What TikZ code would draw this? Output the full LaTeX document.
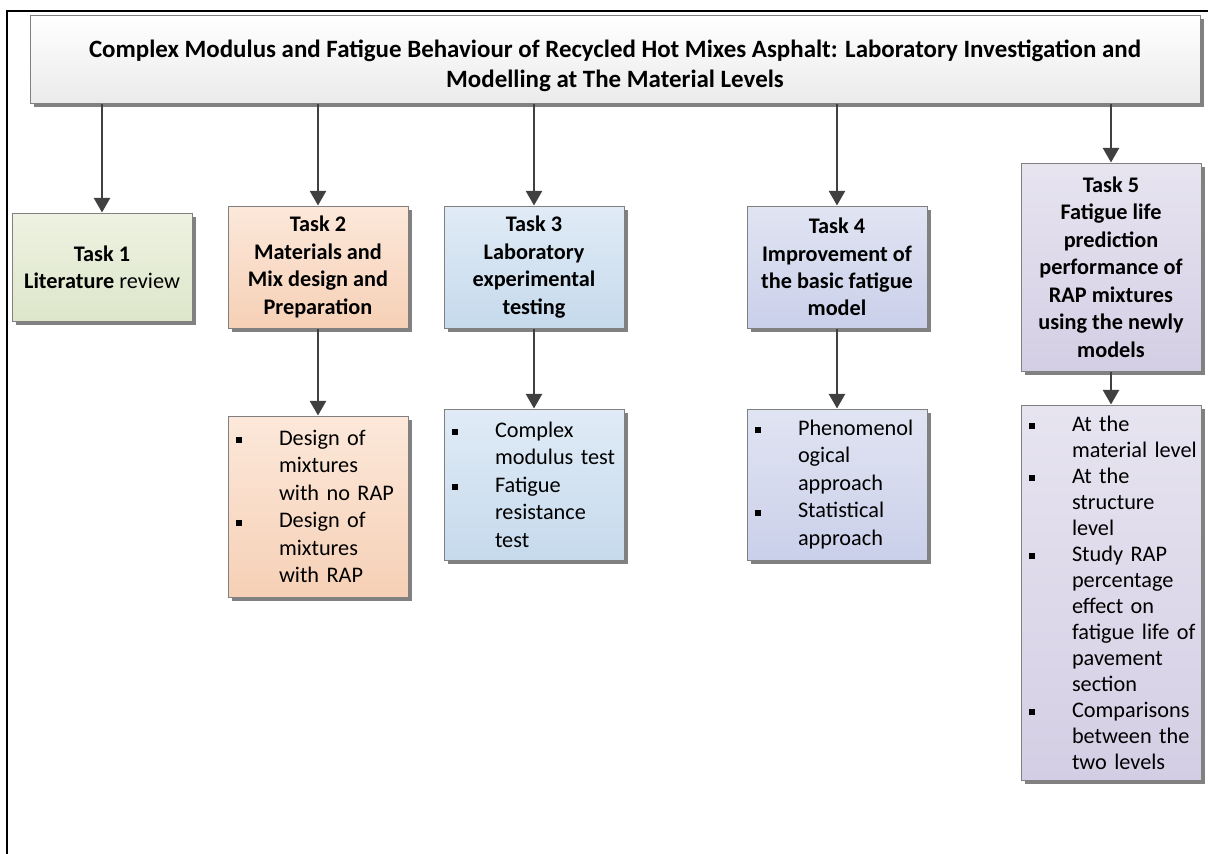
\documentclass[tikz,border=0pt]{standalone}
\usepackage{fontspec}
\setmainfont{Carlito}
\usetikzlibrary{arrows.meta, positioning, shadows}

\definecolor{boxgray}{RGB}{128,128,128}
\definecolor{arrowgray}{RGB}{64,64,64}
\definecolor{greenA}{RGB}{238,242,226}
\definecolor{greenB}{RGB}{221,230,202}
\definecolor{peachA}{RGB}{252,232,218}
\definecolor{peachB}{RGB}{246,208,182}
\definecolor{blueA}{RGB}{224,235,246}
\definecolor{blueB}{RGB}{198,218,236}
\definecolor{lavA}{RGB}{224,228,242}
\definecolor{lavB}{RGB}{202,208,234}
\definecolor{lilacA}{RGB}{231,228,240}
\definecolor{lilacB}{RGB}{212,206,228}

% bullet line and continuation line of a list box
\newcommand{\bitem}[1]{\noindent\makebox[32.25pt][l]{\raisebox{1.6pt}{\rule{4.5pt}{4.5pt}}}\mbox{#1}}
\newcommand{\bcont}[1]{\noindent\hspace*{32.25pt}\mbox{#1}}

\begin{document}
\begin{tikzpicture}[
    x=0.75pt, y=-0.75pt,
    font=\fontsize{16.7}{20.6}\selectfont,
    box/.style={rectangle, draw=boxgray, line width=0.75pt, minimum width=135pt, align=center,
        drop shadow={shadow xshift=3pt, shadow yshift=-3pt, fill=black!55, opacity=0.9}},
    titlebox/.style={box, top color=white, bottom color=black!8, minimum width=877.5pt, minimum height=66pt, font=\fontsize{18.7}{22.5}\selectfont\bfseries},
    taskbox/.style={box, font=\fontsize{16.7}{20.6}\selectfont\bfseries},
    listbox/.style={box, text width=123pt, inner xsep=6pt, align=left},
    greenstep/.style={top color=greenA, bottom color=greenB},
    peachstep/.style={top color=peachA, bottom color=peachB},
    bluestep/.style={top color=blueA, bottom color=blueB},
    lavstep/.style={top color=lavA, bottom color=lavB},
    lilacstep/.style={top color=lilacA, bottom color=lilacB},
    arrow/.style={-{Triangle[width=12pt, length=11pt]}, draw=arrowgray, fill=arrowgray, line width=2pt}
]
    \useasboundingbox (0,0) rectangle (1208,854);

    % Frame
    \draw[line width=1.8pt] (7,854) -- (7,11) -- (1208,11);

    % Title
    \node[titlebox] (title) at (615,59) {\rule{0pt}{23pt}Complex Modulus and Fatigue Behaviour of Recycled Hot Mixes Asphalt: Laboratory Investigation and\\Modelling at The Material Levels};

    % Tasks
    \node[taskbox, greenstep, minimum height=81pt] (task1) at (102,267) {Task 1\\Literature \mdseries review};
    \node[taskbox, peachstep, minimum height=91.5pt] (task2) at (318,267) {Task 2\\Materials and\\Mix design and\\Preparation};
    \node[taskbox, bluestep, minimum height=91.5pt] (task3) at (534,267) {Task 3\\Laboratory\\experimental\\testing};
    \node[taskbox, lavstep, minimum height=91.5pt] (task4) at (837,267) {Task 4\\Improvement of\\the basic fatigue\\model};
    \node[taskbox, lilacstep, minimum height=156pt] (task5) at (1111,267) {Task 5\\Fatigue life\\prediction\\performance of\\RAP mixtures\\using the newly\\models};

    % Lists
    \node[listbox, peachstep, minimum height=135.75pt, below=65.25pt of task2] (list2) {\bitem{Design of}\\\bcont{mixtures}\\\bcont{with no RAP}\\\bitem{Design of}\\\bcont{mixtures}\\\bcont{with RAP}};
    \node[listbox, bluestep, minimum height=113.25pt, below=60pt of task3] (list3) {\bitem{Complex}\\\bcont{modulus test}\\\bitem{Fatigue}\\\bcont{resistance}\\\bcont{test}};
    \node[listbox, lavstep, minimum height=113.25pt, below=60pt of task4] (list4) {\bitem{Phenomenol}\\\bcont{ogical}\\\bcont{approach}\\\bitem{Statistical}\\\bcont{approach}};
    \node[listbox, lilacstep, minimum height=281.25pt, below=24.75pt of task5, font=\fontsize{16.7}{19.5}\selectfont] (list5) {\bitem{At the}\\\bcont{material level}\\\bitem{At the}\\\bcont{structure}\\\bcont{level}\\\bitem{Study RAP}\\\bcont{percentage}\\\bcont{effect on}\\\bcont{fatigue life of}\\\bcont{pavement}\\\bcont{section}\\\bitem{Comparisons}\\\bcont{between the}\\\bcont{two levels}};

    % Connections
    \draw[arrow] (title.south -| task1.north) -- (task1.north);
    \draw[arrow] (title.south -| task2.north) -- (task2.north);
    \draw[arrow] (title.south -| task3.north) -- (task3.north);
    \draw[arrow] (title.south -| task4.north) -- (task4.north);
    \draw[arrow] (title.south -| task5.north) -- (task5.north);
    \draw[arrow] (task2) -- (list2);
    \draw[arrow] (task3) -- (list3);
    \draw[arrow] (task4) -- (list4);
    \draw[arrow] (task5) -- (list5);

\end{tikzpicture}
\end{document}
